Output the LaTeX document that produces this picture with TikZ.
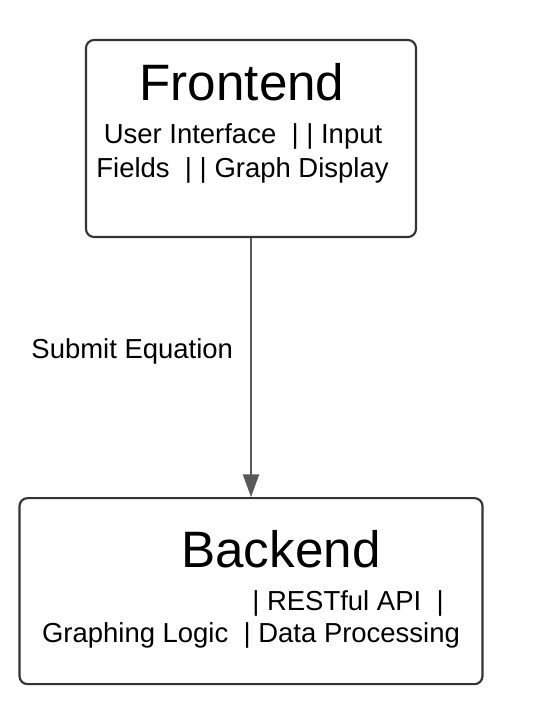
\documentclass[tikz,border=0pt]{standalone}
\usepackage{fontspec}
\setmainfont{Liberation Sans}
\usetikzlibrary{arrows.meta}
\usetikzlibrary{positioning}
\definecolor{boxline}{HTML}{333338}
\definecolor{arrowgray}{HTML}{595959}
\tikzstyle{box} = [rectangle, rounded corners=6pt, line width=1.6pt, draw=boxline, fill=white]
\tikzstyle{arrow} = [line width=1.5pt, draw=arrowgray, -{Triangle[width=12pt,length=17pt]}]
\tikzstyle{title} = [font=\fontsize{38.4}{44}\selectfont, inner sep=0pt, anchor=base]
\tikzstyle{detail} = [font=\fontsize{20.6}{24}\selectfont, inner sep=0pt, anchor=base]

\begin{document}
\begin{tikzpicture}[x=0.75pt, y=-0.75pt]
\useasboundingbox (0,0) rectangle (554,718);

\node (frontend) [box, minimum width=247.5pt, minimum height=147.75pt] at (251,138.5) {};
\node (backend) [box, minimum width=347.25pt, minimum height=139.5pt, below=194.25pt of frontend] {};

\node (fetitle) [title] at (242,100) {Frontend};
\node (feline1) [detail] at (243,143) {User Interface\ \ | | Input};
\node (feline2) [detail] at (242.5,177) {Fields\ \ | | Graph Display};

\node (betitle) [title] at (281,567) {Backend};
\node (beline1) [detail] at (348,610) {| RESTful API\ \ |};
\node (beline2) [detail] at (251,642) {Graphing Logic\ \ | Data Processing};

\draw [arrow](frontend) -- node (submit) [pos=0.436, anchor=east, inner sep=0pt, xshift=-12.75pt, font=\fontsize{20.6}{24}\selectfont]{Submit Equation}(backend);

\end{tikzpicture}
\end{document}
